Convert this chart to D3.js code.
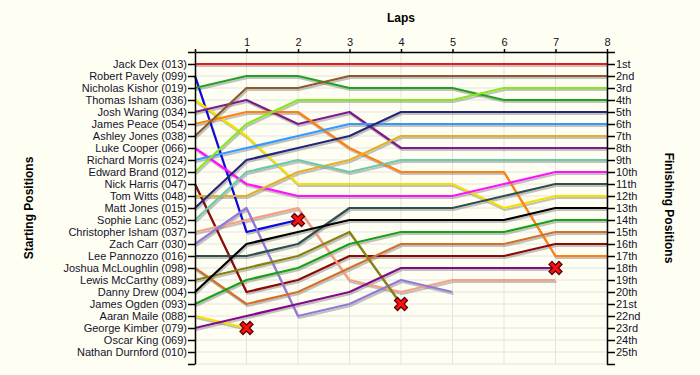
<!DOCTYPE html>
<html>
<head>
<meta charset="utf-8">
<script src="https://cdn.jsdelivr.net/npm/d3@7"></script>
<style>
  body { margin: 0; background: #fffef2; }
  svg { display: block; font-family: "Liberation Sans", Arial, sans-serif; }
  .axis text { font-size: 11px; fill: #12122e; }
  .axis path, .axis line { stroke: #000; stroke-width: 1.5; }
  .title { font-size: 12px; font-weight: bold; fill: #000; }
</style>
</head>
<body>
<svg id="chart" width="700" height="375"></svg>
<script>
// starting grid, in order
const drivers = [
  "Jack Dex (013)", "Robert Pavely (099)", "Nicholas Kishor (019)", "Thomas Isham (036)",
  "Josh Waring (034)", "James Peace (054)", "Ashley Jones (038)", "Luke Cooper (066)",
  "Richard Morris (024)", "Edward Brand (012)", "Nick Harris (047)", "Tom Witts (048)",
  "Matt Jones (015)", "Sophie Lanc (052)", "Christopher Isham (037)", "Zach Carr (030)",
  "Lee Pannozzo (016)", "Joshua McLoughlin (098)", "Lewis McCarthy (089)", "Danny Drew (004)",
  "James Ogden (093)", "Aaran Maile (088)", "George Kimber (079)", "Oscar King (069)",
  "Nathan Durnford (010)"
];
const finishLabels = [
  "1st", "2nd", "3rd", "4th", "5th", "6th", "7th", "8th", "9th", "10th", "11th", "12th", "13th",
  "14th", "15th", "16th", "17th", "18th", "19th", "20th", "21st", "22nd", "23rd", "24th", "25th"
];
const lapTicks = [1, 2, 3, 4, 5, 6, 7, 8];

// position at lap 0,1,2,... for each driver (same order as drivers)
const positions = [
  [1, 1, 1, 1, 1, 1, 1, 1, 1],
  [2, 15, 14],
  [3, 2, 2, 3, 3, 3, 4, 4, 4],
  [4, 7, 11, 11, 11, 11, 13, 12, 12],
  [5, 4, 6, 5, 8, 8, 8, 8, 8],
  [6, 5, 5, 8, 10, 10, 10, 17, 17],
  [7, 3, 3, 2, 2, 2, 2, 2, 2],
  [8, 11, 12, 12, 12, 12, 11, 10, 10],
  [9, 8, 7, 6, 6, 6, 6, 6, 6],
  [10, 6, 4, 4, 4, 4, 3, 3, 3],
  [11, 20, 19, 17, 17, 17, 17, 16, 16],
  [12, 12, 10, 9, 7, 7, 7, 7, 7],
  [13, 9, 8, 7, 5, 5, 5, 5, 5],
  [14, 10, 9, 10, 9, 9, 9, 9, 9],
  [15, 14, 13, 19, 20, 19, 19, 19],
  [16, 13, 22, 21, 19, 20],
  [17, 17, 16, 13, 13, 13, 12, 11, 11],
  [18, 21, 20, 18, 16, 16, 16, 15, 15],
  [19, 18, 17, 15, 21],
  [20, 16, 15, 14, 14, 14, 14, 13, 13],
  [21, 19, 18, 16, 15, 15, 15, 14, 14],
  [22, 23],
  [23, 22, 21, 20, 18, 18, 18, 18],
  [],
  []
];
const retired = [
  false, true, false, false, false, false, false, false, false, false, false, false, false,
  false, false, false, false, false, true, false, false, true, true, false, false
];
const colors = [
  "#e81a1a", "#0a0ae0", "#22a022", "#f5e000", "#7d1a8c", "#ff8010", "#8b5a2b", "#ff10ff",
  "#3399ff", "#84e81c", "#8b0a0a", "#e0b02a", "#25257a", "#6cc8a8", "#f5a080", "#9378d8",
  "#2f4f4f", "#d0702e", "#858010", "#000000", "#18a018", "#f5e000", "#800a88", "#888", "#888"
];

const svg = d3.select("#chart");
const x = d3.scaleLinear().domain([0, 8]).range([195, 607]);
const y = d3.scaleLinear().domain([0, 26]).range([52, 364]);

// grid
const grid = svg.append("g").attr("stroke", "#e3e3e3").attr("stroke-width", 1);
grid.selectAll(".gv").data(lapTicks).join("line")
  .attr("x1", d => x(d)).attr("x2", d => x(d))
  .attr("y1", y(0)).attr("y2", y(26));
grid.selectAll(".gh").data(d3.range(1, 27)).join("line")
  .attr("x1", x(0)).attr("x2", x(8))
  .attr("y1", d => y(d)).attr("y2", d => y(d));

// lines
const line = d3.line().x((d, i) => x(i)).y(d => y(d));
const series = drivers.map((name, i) => ({ name, pos: positions[i], color: colors[i], out: retired[i] }))
  .filter(s => s.pos.length > 1);

svg.append("g").attr("transform", "translate(1,2)")
  .selectAll("path").data(series).join("path")
  .attr("d", s => line(s.pos))
  .attr("fill", "none").attr("stroke", "#777").attr("stroke-opacity", 0.45)
  .attr("stroke-width", 2.2).attr("stroke-linejoin", "round");

svg.append("g")
  .selectAll("path").data(series).join("path")
  .attr("d", s => line(s.pos))
  .attr("fill", "none").attr("stroke", s => s.color)
  .attr("stroke-width", 2.2).attr("stroke-linejoin", "round");

// retirement markers
const cross = "M-3.5,-3.5L3.5,3.5M3.5,-3.5L-3.5,3.5";
const marks = svg.append("g").selectAll("g").data(series.filter(s => s.out)).join("g")
  .attr("transform", s => `translate(${x(s.pos.length - 1)},${y(s.pos[s.pos.length - 1])})`);
marks.append("path").attr("d", cross).attr("stroke", "#5a0000").attr("stroke-width", 5.5).attr("stroke-linecap", "square");
marks.append("path").attr("d", cross).attr("stroke", "#ff1010").attr("stroke-width", 3).attr("stroke-linecap", "square");

// axes
svg.append("g").attr("class", "axis")
  .attr("transform", `translate(0,${y(0)})`)
  .call(d3.axisTop(x).tickValues(d3.range(0, 9)).tickFormat(d => d ? d : "").tickSize(3).tickSizeOuter(0));

svg.append("g").attr("class", "axis")
  .attr("transform", `translate(${x(0)},0)`)
  .call(d3.axisLeft(y).tickValues(d3.range(0, 27)).tickFormat(d => drivers[d - 1] || "").tickSize(7).tickPadding(1).tickSizeOuter(0));

svg.append("g").attr("class", "axis")
  .attr("transform", `translate(${x(8)},0)`)
  .call(d3.axisRight(y).tickValues(d3.range(0, 27)).tickFormat(d => finishLabels[d - 1] || "").tickSize(8).tickPadding(1).tickSizeOuter(0));

// titles
svg.append("text").attr("class", "title").attr("x", 401).attr("y", 22).attr("text-anchor", "middle").text("Laps");
svg.append("text").attr("class", "title").attr("text-anchor", "middle")
  .attr("transform", "translate(33,208) rotate(-90)").text("Starting Positions");
svg.append("text").attr("class", "title").attr("text-anchor", "middle")
  .attr("transform", "translate(665,208) rotate(90)").text("Finishing Positions");
</script>
</body>
</html>
